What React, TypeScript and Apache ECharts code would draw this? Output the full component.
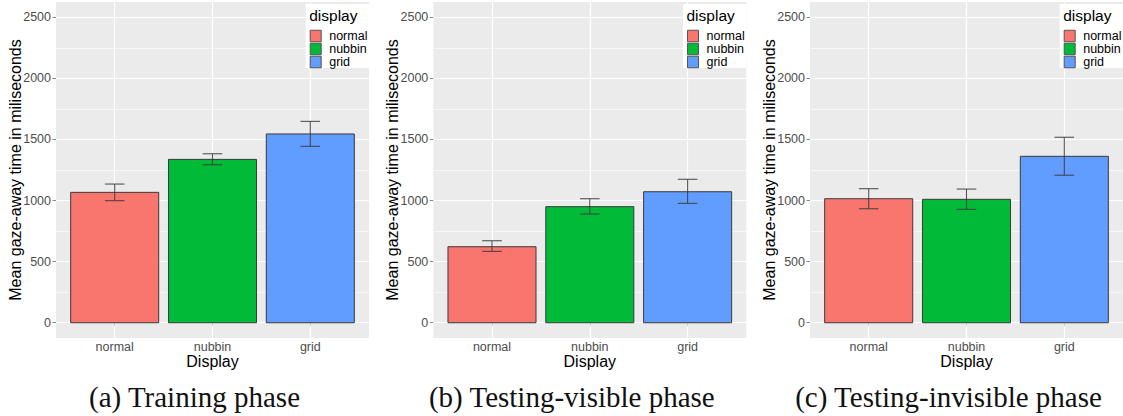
import React, { useEffect, useRef } from "react";
import * as echarts from "echarts";

const categories = ["normal", "nubbin", "grid"];

const trainingMean = [1067, 1337, 1545];
const trainingLow = [999, 1293, 1444];
const trainingHigh = [1135, 1383, 1648];

const visibleMean = [622, 950, 1072];
const visibleLow = [584, 890, 977];
const visibleHigh = [671, 1015, 1174];

const invisibleMean = [1015, 1010, 1362];
const invisibleLow = [933, 928, 1207];
const invisibleHigh = [1097, 1094, 1518];

const yMajorTicks = [0, 500, 1000, 1500, 2000, 2500];
const yMinorTicks = [250, 750, 1250, 1750, 2250];

const captions = ["(a) Training phase", "(b) Testing-visible phase", "(c) Testing-invisible phase"];
const yTitle = "Mean gaze-away time in miliseconds";
const xTitle = "Display";
const legendTitle = "display";

const panels = [
  { mean: trainingMean, low: trainingLow, high: trainingHigh },
  { mean: visibleMean, low: visibleLow, high: visibleHigh },
  { mean: invisibleMean, low: invisibleLow, high: invisibleHigh },
];

const COLORS = ["#F8766D", "#00BA38", "#619CFF"];
const PANEL_LEFT = [56, 433.3, 810];
const PANEL_W = 313;
const PANEL_TOP = 2;
const PANEL_H = 336;
const SANS = "'Liberation Sans', Arial, sans-serif";
const SERIF = "'Liberation Serif', 'Times New Roman', serif";

export default function App() {
  const ref = useRef<HTMLDivElement>(null);

  useEffect(() => {
    if (!ref.current) return;
    const chart = echarts.init(ref.current, undefined, { renderer: "svg" });

    const grids: any[] = [];
    const xAxes: any[] = [];
    const yAxes: any[] = [];
    const series: any[] = [];
    const legends: any[] = [];
    const graphics: any[] = [];

    panels.forEach((p, pi) => {
      const L = PANEL_LEFT[pi];
      grids.push({
        left: L,
        top: PANEL_TOP,
        width: PANEL_W,
        height: PANEL_H,
        show: true,
        backgroundColor: "#EBEBEB",
        borderWidth: 0,
      });
      xAxes.push({
        type: "value",
        gridIndex: pi,
        min: 0.4,
        max: 3.6,
        axisLine: { show: false },
        axisTick: { show: true, customValues: [1, 2, 3], length: 3.5, lineStyle: { color: "#cfcfcf", width: 1 } },
        axisLabel: {
          customValues: [1, 2, 3],
          formatter: (v: number) => categories[Math.round(v) - 1] ?? "",
          color: "#4D4D4D",
          fontSize: 12.5,
          fontFamily: SANS,
          margin: 2,
        },
        splitLine: { show: true, lineStyle: { color: "#FFFFFF", width: 1.2 } },
        name: xTitle,
        nameLocation: "middle",
        nameGap: 15,
        nameMoveOverlap: false,
        nameTextStyle: { fontSize: 16, color: "#000", fontFamily: SANS },
      });
      yAxes.push({
        type: "value",
        gridIndex: pi,
        min: -125,
        max: 2625,
        axisLine: { show: false },
        axisTick: { show: true, customValues: yMajorTicks, length: 3.5, lineStyle: { color: "#888", width: 1 } },
        axisLabel: {
          customValues: yMajorTicks,
          formatter: (v: number) => String(v),
          color: "#4D4D4D",
          fontSize: 12.5,
          fontFamily: SANS,
          margin: 5,
        },
        splitLine: { show: true, lineStyle: { color: "#FFFFFF", width: 1.2 } },
        name: yTitle,
        nameLocation: "middle",
        nameGap: 33,
        nameMoveOverlap: false,
        nameTextStyle: { fontSize: 16, color: "#000", fontFamily: SANS },
      });
      yAxes.push({
        type: "value",
        gridIndex: pi,
        position: "left",
        min: -125,
        max: 2625,
        axisLine: { show: false },
        axisTick: { show: false, customValues: yMinorTicks },
        axisLabel: { show: false, customValues: yMinorTicks },
        splitLine: { show: true, lineStyle: { color: "#FFFFFF", width: 0.6 } },
      });

      categories.forEach((cat, ci) => {
        const color = COLORS[ci];
        series.push({
          type: "custom",
          name: cat,
          xAxisIndex: pi,
          yAxisIndex: pi * 2,
          itemStyle: { color },
          data: [[ci + 1, p.mean[ci], p.low[ci], p.high[ci]]],
          renderItem: (params: any, api: any) => {
            const x = api.value(0);
            const m = api.value(1);
            const lo = api.value(2);
            const hi = api.value(3);
            const a = api.coord([x - 0.45, m]);
            const b = api.coord([x + 0.45, 0]);
            const top = api.coord([x, hi]);
            const bot = api.coord([x, lo]);
            const wl = api.coord([x - 0.1, lo])[0];
            const wr = api.coord([x + 0.1, lo])[0];
            const es = { stroke: "#3a3a3a", lineWidth: 1.1, opacity: 0.85 };
            return {
              type: "group",
              children: [
                {
                  type: "rect",
                  shape: { x: a[0], y: a[1], width: b[0] - a[0], height: b[1] - a[1] },
                  style: { fill: color, stroke: "#3a3a3a", lineWidth: 1 },
                },
                { type: "line", shape: { x1: top[0], y1: top[1], x2: bot[0], y2: bot[1] }, style: es },
                { type: "line", shape: { x1: wl, y1: top[1], x2: wr, y2: top[1] }, style: es },
                { type: "line", shape: { x1: wl, y1: bot[1], x2: wr, y2: bot[1] }, style: es },
              ],
            };
          },
        });
      });

      const boxLeft = L + PANEL_W - 63.3;
      graphics.push({
        type: "rect",
        z: 3,
        shape: { x: boxLeft, y: 4, width: 63.3, height: 64 },
        style: { fill: "#FFFFFF" },
      });
      graphics.push({
        type: "text",
        z: 5,
        x: boxLeft + 3.5,
        y: 15.5,
        style: { text: legendTitle, fontSize: 15.5, fontFamily: SANS, fill: "#000", verticalAlign: "middle", align: "left" },
      });
      legends.push({
        orient: "vertical",
        left: boxLeft + 4,
        top: 29.5,
        padding: 0,
        itemGap: 0,
        itemWidth: 11,
        itemHeight: 11.5,
        selectedMode: false,
        z: 6,
        textStyle: { fontSize: 12.5, fontFamily: SANS, color: "#000", lineHeight: 11.5, padding: [0, 0, 0, 3] },
        data: categories.map((c, ci) => ({
          name: c,
          icon: "rect",
          itemStyle: { color: COLORS[ci], borderColor: "#555", borderWidth: 1 },
        })),
      });

      graphics.push({
        type: "text",
        z: 5,
        x: L + PANEL_W / 2 - 18,
        y: 396.5,
        style: {
          text: captions[pi],
          fontSize: 29,
          fontFamily: SERIF,
          fill: "#111",
          align: "center",
          verticalAlign: "middle",
        },
      });
    });

    chart.setOption({
      animation: false,
      backgroundColor: "#FFFFFF",
      grid: grids,
      xAxis: xAxes,
      yAxis: yAxes,
      series,
      legend: legends,
      graphic: graphics,
    });

    return () => chart.dispose();
  }, []);

  return (
    <div
      ref={ref}
      style={{ position: "absolute", left: 0, top: 0, width: 1123, height: 416 }}
    />
  );
}
